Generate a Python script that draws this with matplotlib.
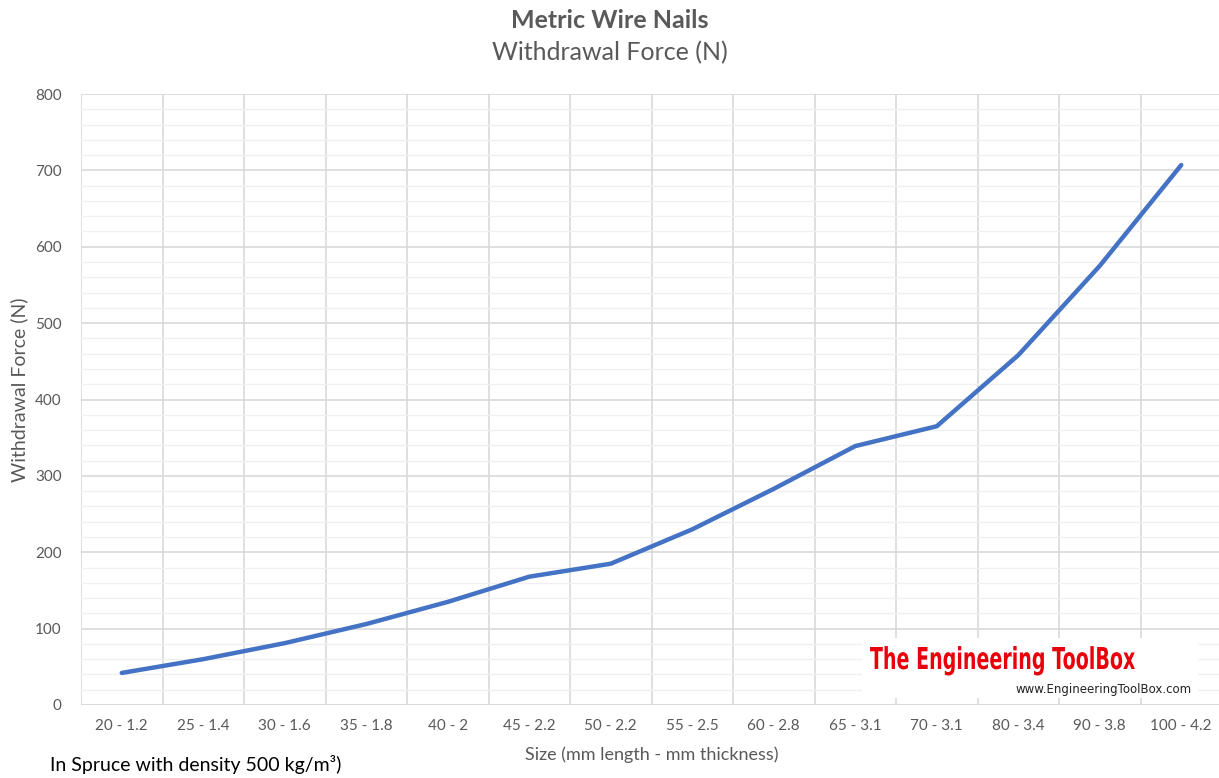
import matplotlib.pyplot as plt
from matplotlib.patches import Rectangle, PathPatch
from matplotlib.ticker import MultipleLocator
from matplotlib.textpath import TextPath
from matplotlib.font_manager import FontProperties
from matplotlib.transforms import Affine2D

sizes = ["20 - 1.2", "25 - 1.4", "30 - 1.6", "35 - 1.8", "40 - 2", "45 - 2.2", "50 - 2.2",
         "55 - 2.5", "60 - 2.8", "65 - 3.1", "70 - 3.1", "80 - 3.4", "90 - 3.8", "100 - 4.2"]
force = [42, 60, 81, 106, 135, 168, 185, 230, 283, 339, 365, 458, 575, 707]

plt.rcParams['font.family'] = ['Lato', 'DejaVu Sans']
grey = "#595959"
W, H = 1219, 778

fig = plt.figure(figsize=(W / 100, H / 100), dpi=100)
ax = fig.add_axes([81 / W, 1 - 705 / H, (1222 - 81) / W, (705 - 94) / H])

x = list(range(len(sizes)))
ax.plot(x, force, color="#4472C4", linewidth=3.2, solid_capstyle="round", zorder=3)

ax.set_xlim(-0.5, len(sizes) - 0.5)
ax.set_ylim(0, 800)
ax.yaxis.set_major_locator(MultipleLocator(100))
ax.yaxis.set_minor_locator(MultipleLocator(20))
ax.set_xticks(x)
ax.set_xticklabels(sizes)
ax.set_xticks([i + 0.5 for i in range(-1, len(sizes))], minor=True)

ax.grid(which="major", axis="y", color="#D9D9D9", linewidth=1.2)
ax.grid(which="minor", axis="y", color="#F0F0F0", linewidth=1.0)
ax.grid(which="minor", axis="x", color="#D9D9D9", linewidth=1.2)
ax.set_axisbelow(True)
for s in ax.spines.values():
    s.set_visible(False)
ax.axhline(0, color="#D9D9D9", linewidth=1.2, zorder=1)
ax.tick_params(which="both", length=0)
ax.tick_params(axis="both", labelsize=11, colors=grey, pad=10)
ax.tick_params(axis="y", pad=14)

ax.set_ylabel("Withdrawal Force (N)", fontsize=14, color=grey)
ax.yaxis.set_label_coords((28 - 81) / 1141, (705 - 390) / 611)
ax.set_xlabel("Size (mm length - mm thickness)", fontsize=13, color=grey, labelpad=10)

fig.text(0.5, 1 - 20 / H, "Metric Wire Nails", ha="center", va="center",
         fontsize=18, fontweight="bold", color=grey)
fig.text(0.5, 1 - 53 / H, "Withdrawal Force (N)", ha="center", va="center",
         fontsize=18, color=grey)
fig.text(50 / W, 1 - 765 / H, "In Spruce with density 500 kg/m³)", ha="left", va="center",
         fontsize=14, color="black")

# watermark: white box, condensed red logo text, url
fig.patches.append(Rectangle((862 / W, 1 - 698 / H), 336 / W, 60 / H,
                             transform=fig.transFigure, facecolor="white", edgecolor="none", zorder=5))
tp = TextPath((0, 0), "The Engineering ToolBox", size=1,
              prop=FontProperties(family="DejaVu Sans", weight="bold"))
ext = tp.get_extents()
sx = 265 / ext.width
sy = 22 / 0.729
logo_tr = Affine2D().translate(-ext.x0, 0).scale(sx / W, sy / H).translate(870 / W, 1 - 669 / H)
fig.patches.append(PathPatch(tp, transform=logo_tr + fig.transFigure,
                             facecolor="#E8000B", edgecolor="none", zorder=6))
fig.text(1192 / W, 1 - 690 / H, "www.EngineeringToolBox.com", ha="right", va="center",
         fontsize=8.5, color="#222222", family="DejaVu Sans", zorder=6)

fig.savefig("out.png", dpi=100)
